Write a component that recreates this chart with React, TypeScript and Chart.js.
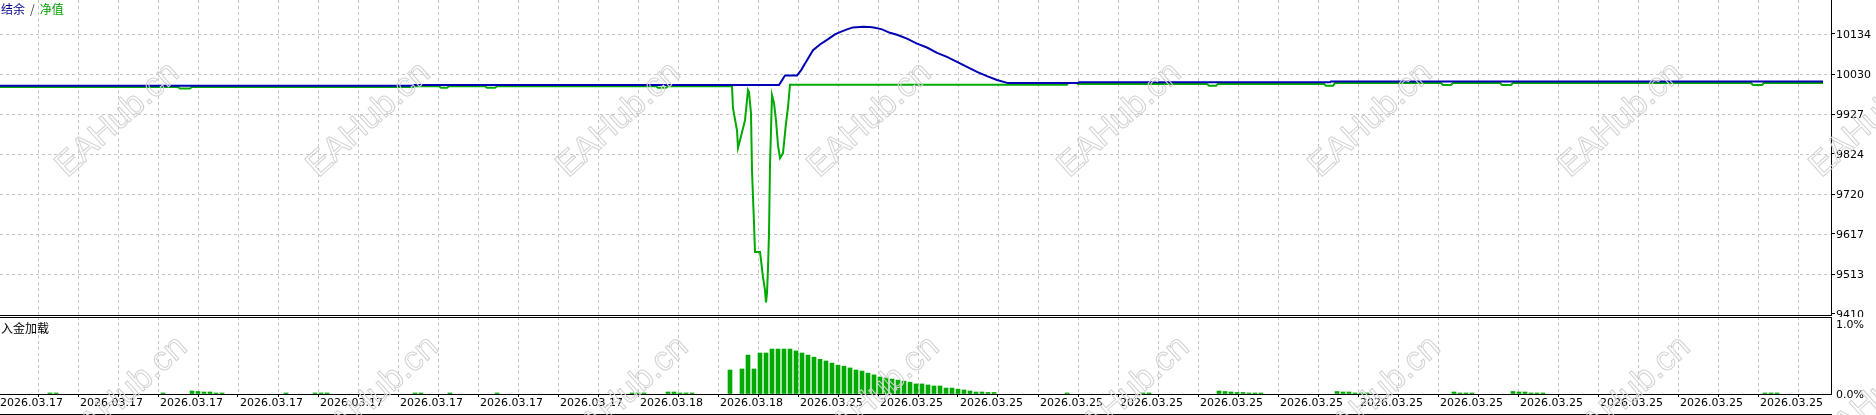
import React, { useEffect, useRef } from "react";
import { Chart, registerables } from "chart.js";

Chart.register(...registerables);

// ---------- data ----------
// x = time step index (shared by both panels)
const X_MIN = 0;
const X_MAX = 915.5;
const X_TICKS = [
  -1, 19, 39, 59, 79, 99, 119, 139, 159, 179, 199, 219, 239, 259, 279, 299, 319, 339, 359, 379, 399, 419, 439,
  459, 479, 499, 519, 539, 559, 579, 599, 619, 639, 659, 679, 699, 719, 739, 759, 779, 799, 819, 839, 859, 879, 899,
];
const X_TICK_LABELS = [
  "2026.03.17", "2026.03.17", "2026.03.17", "2026.03.17", "2026.03.17", "2026.03.17", "2026.03.17", "2026.03.17",
  "2026.03.18", "2026.03.18",
  "2026.03.25", "2026.03.25", "2026.03.25", "2026.03.25", "2026.03.25", "2026.03.25", "2026.03.25",
  "2026.03.25", "2026.03.25", "2026.03.25", "2026.03.25", "2026.03.25", "2026.03.25",
];

const Y_TICKS = [9410, 9513, 9617, 9720, 9824, 9927, 10030, 10134];
const Y_TICK_LABELS = ["9410", "9513", "9617", "9720", "9824", "9927", "10030", "10134"];
const Y_MIN = 9407.4;
const Y_MAX = 10221.9;

const BALANCE_T = [
  0, 206.5, 207, 389.5, 392.5, 398.5, 400.5, 403.5, 406.5, 410, 413.5, 417.5, 420, 423.5, 426.5, 431.5, 435, 437.5,
  441, 445, 448.5, 453.5, 458.5, 463.5, 468.5, 473.5, 478.5, 483.5, 488.5, 493.5, 498.5, 504, 539, 539.5, 665, 665.5,
  911.5,
];
const BALANCE_V = [
  10000, 10000, 10002, 10002, 10027, 10027, 10040, 10066, 10092, 10107, 10119, 10133, 10139, 10146, 10151, 10153,
  10152, 10150, 10146, 10137, 10132, 10122, 10109, 10099, 10085, 10075, 10062, 10049, 10036, 10025, 10015, 10007,
  10007, 10009, 10009, 10011, 10011,
];

const EQUITY_T = [
  0, 89, 90, 95, 96, 206.5, 207, 219.5, 220.5, 223.5, 224.5, 242.5, 243.5, 247.5, 248.5, 328, 329, 333, 334, 366,
  366.5, 368.5, 369, 370, 372.5, 374, 374.5, 375.5, 376, 376.5, 377, 377.5, 380, 380.5, 381.5, 382.5, 383, 383.5,
  384, 384.5, 385, 385.5, 386, 387, 388, 389, 390, 391.5, 393, 394, 395, 533.5, 534, 538.5, 539, 603.5, 604.5, 608,
  609, 662, 663, 666.5, 667.5, 720.5, 721.5, 725.5, 726.5, 750, 751, 755.5, 756.5, 875.5, 876.5, 881, 882, 911.5,
];
const EQUITY_V = [
  9997, 9997, 9993, 9993, 9997, 9997, 9999, 9999, 9995, 9995, 9999, 9999, 9995, 9995, 9999, 9999, 9995, 9995, 9999,
  9999, 9942, 9885, 9839, 9859, 9911, 9989, 9984, 9929, 9782, 9712, 9645, 9570, 9570, 9549, 9505, 9471, 9440, 9464,
  9528, 9619, 9795, 9885, 9976, 9955, 9911, 9846, 9813, 9826, 9903, 9945, 10003, 10003, 10007, 10007, 10005, 10005,
  10000, 10000, 10005, 10005, 10000, 10000, 10007, 10007, 10002, 10002, 10007, 10007, 10002, 10002, 10007, 10007,
  10002, 10002, 10007, 10007,
];

// deposit load, percent
const LOAD_T = [
  25, 28, 81.5, 96, 99, 102, 105, 108, 111, 143, 157.5, 160.5, 163.5, 207.5, 210.5, 225, 248.5, 316, 319, 322, 334,
  337, 340, 343, 346, 365, 371, 374, 377, 380, 383, 386, 389, 392, 395, 398, 401, 404, 407, 410, 413, 416, 419, 422,
  425, 428, 431, 434, 437, 440, 443, 446, 449, 452, 455, 458, 461, 464, 467, 470, 473, 476, 479, 482, 485, 488, 491,
  494, 497, 533.5, 571.5, 574.5, 609.5, 612.5, 615.5, 618.5, 621.5, 624.5, 627.5, 630.5, 668.5, 671.5, 674.5, 677.5,
  680.5, 683.5, 727, 730, 733, 736, 756.5, 759.5, 762.5, 765.5, 768.5, 771.5, 882.5, 885.5, 888.5,
];
const LOAD_V = [
  0.015, 0.015, 0.015, 0.043, 0.036, 0.029, 0.029, 0.015, 0.015, 0.015, 0.015, 0.015, 0.015, 0.015, 0.015, 0.015,
  0.015, 0.015, 0.015, 0.015, 0.029, 0.029, 0.015, 0.015, 0.015, 0.345, 0.36, 0.56, 0.36, 0.59, 0.59, 0.647, 0.647,
  0.647, 0.647, 0.62, 0.59, 0.56, 0.53, 0.5, 0.475, 0.445, 0.415, 0.4, 0.375, 0.345, 0.33, 0.3, 0.275, 0.245, 0.23,
  0.215, 0.2, 0.185, 0.17, 0.145, 0.145, 0.13, 0.115, 0.115, 0.085, 0.085, 0.07, 0.058, 0.043, 0.029, 0.029, 0.022,
  0.022, 0.015, 0.015, 0.015, 0.043, 0.036, 0.029, 0.022, 0.022, 0.015, 0.015, 0.015, 0.036, 0.029, 0.029, 0.015,
  0.015, 0.015, 0.029, 0.015, 0.015, 0.015, 0.036, 0.029, 0.029, 0.015, 0.015, 0.015, 0.015, 0.015, 0.015,
];
const LOAD_TICKS = [0, 1];
const LOAD_TICK_LABELS = ["0.0%", "1.0%"];
const LOAD_MAX = 1.108;

// ---------- styles ----------
const BLUE = "#0000b4";
const GREEN = "#00aa00";
const GRID = "#c4c4c4";
const AXIS_FONT = { family: '"DejaVu Sans", sans-serif', size: 11 };

const zip = (t: number[], v: number[]) => t.map((x, i) => ({ x, y: v[i] }));

const dashedGrid = {
  id: "dashedGrid",
  beforeDatasetsDraw(chart: any, _a: any, opts: any) {
    const { ctx, chartArea: a, scales } = chart;
    ctx.save();
    ctx.strokeStyle = GRID;
    ctx.lineWidth = 1;
    ctx.setLineDash([3, 3]);
    ctx.beginPath();
    for (const t of scales.x.ticks) {
      const px = Math.round(scales.x.getPixelForValue(t.value)) + 0.5;
      if (px < a.left + 1 || px > a.right - 1) continue;
      ctx.moveTo(px, a.top);
      ctx.lineTo(px, a.bottom);
    }
    if (opts && opts.horizontal) {
      for (const t of scales.y.ticks) {
        const py = Math.round(scales.y.getPixelForValue(t.value)) + 0.5;
        if (py < a.top + 1 || py > a.bottom - 2) continue;
        ctx.moveTo(a.left, py);
        ctx.lineTo(a.right, py);
      }
    }
    ctx.stroke();
    ctx.restore();
  },
};

const subFrame = {
  id: "subFrame",
  afterDraw(chart: any) {
    const { ctx, chartArea: a } = chart;
    ctx.save();
    ctx.fillStyle = "#000";
    ctx.fillRect(a.left, Math.round(a.top), a.right - a.left + 1, 1);
    ctx.fillRect(a.left, chart.height - 1, a.right - a.left + 1, 1);
    ctx.restore();
  },
};

const xTickSetup = (s: any) => {
  s.ticks = X_TICKS.map((v) => ({ value: v }));
};

export default function App() {
  const mainRef = useRef<HTMLCanvasElement>(null);
  const subRef = useRef<HTMLCanvasElement>(null);

  useEffect(() => {
    const main = new Chart(mainRef.current as HTMLCanvasElement, {
      type: "line",
      data: {
        datasets: [
          {
            label: "结余",
            data: zip(BALANCE_T, BALANCE_V),
            borderColor: BLUE,
            borderWidth: 2,
            pointRadius: 0,
            tension: 0,
            fill: false,
          },
          {
            label: "净值",
            data: zip(EQUITY_T, EQUITY_V),
            borderColor: GREEN,
            borderWidth: 2,
            pointRadius: 0,
            tension: 0,
            fill: false,
          },
        ],
      },
      options: {
        animation: false,
        responsive: false,
        devicePixelRatio: 1,
        events: [],
        layout: { padding: { left: 0, right: 0, top: 0, bottom: 2 } },
        plugins: {
          legend: { display: false },
          tooltip: { enabled: false },
          dashedGrid: { horizontal: true },
        } as any,
        scales: {
          x: {
            type: "linear",
            min: X_MIN,
            max: X_MAX,
            afterBuildTicks: xTickSetup,
            afterFit: (s: any) => {
              s.height = 0;
              s.paddingLeft = 0;
              s.paddingRight = 0;
            },
            ticks: { display: false, autoSkip: false },
            grid: { display: true, drawOnChartArea: false, drawTicks: false },
            border: { display: true, color: "#000", width: 1 },
          },
          y: {
            type: "linear",
            position: "right",
            min: Y_MIN,
            max: Y_MAX,
            afterBuildTicks: (s: any) => {
              s.ticks = Y_TICKS.map((v) => ({ value: v }));
            },
            afterFit: (s: any) => {
              s.width = 45;
              s.paddingTop = 0;
              s.paddingBottom = 0;
            },
            ticks: {
              autoSkip: false,
              font: AXIS_FONT,
              color: "#000",
              padding: 1,
              labelOffset: 1,
              callback: (_v: any, i: number) => Y_TICK_LABELS[i],
            },
            grid: { display: true, drawOnChartArea: false, drawTicks: true, tickLength: 4, color: "#000" },
            border: { display: true, color: "#000", width: 1 },
          },
        },
      } as any,
      plugins: [dashedGrid],
    });

    const sub = new Chart(subRef.current as HTMLCanvasElement, {
      type: "bar",
      data: {
        datasets: [
          {
            label: "入金加载",
            data: zip(LOAD_T, LOAD_V),
            backgroundColor: GREEN,
            borderWidth: 0,
            barThickness: 4,
          } as any,
        ],
      },
      options: {
        animation: false,
        responsive: false,
        devicePixelRatio: 1,
        events: [],
        layout: { padding: 0 },
        plugins: {
          legend: { display: false },
          tooltip: { enabled: false },
          dashedGrid: { horizontal: false },
        } as any,
        scales: {
          x: {
            type: "linear",
            min: X_MIN,
            max: X_MAX,
            offset: false,
            afterBuildTicks: xTickSetup,
            afterFit: (s: any) => {
              s.height = 21;
              s.paddingLeft = 0;
              s.paddingRight = 0;
            },
            ticks: {
              display: true,
              autoSkip: false,
              maxRotation: 0,
              minRotation: 0,
              align: "start",
              labelOffset: 2,
              padding: 0,
              font: AXIS_FONT,
              color: "#000",
              callback: (_v: any, i: number) => (i % 2 === 0 ? X_TICK_LABELS[i / 2] ?? "" : ""),
            },
            grid: { display: true, offset: false, drawOnChartArea: false, drawTicks: true, tickLength: 3, color: "#000" },
            border: { display: true, color: "#000", width: 1 },
          },
          y: {
            type: "linear",
            position: "right",
            min: 0,
            max: LOAD_MAX,
            afterBuildTicks: (s: any) => {
              s.ticks = LOAD_TICKS.map((v) => ({ value: v }));
            },
            afterFit: (s: any) => {
              s.width = 45;
              s.paddingTop = 0;
              s.paddingBottom = 0;
            },
            ticks: {
              autoSkip: false,
              font: AXIS_FONT,
              color: "#000",
              padding: 1,
              labelOffset: 1,
              callback: (_v: any, i: number) => LOAD_TICK_LABELS[i],
            },
            grid: { display: true, drawOnChartArea: false, drawTicks: true, tickLength: 4, color: "rgba(0,0,0,0)" },
            border: { display: true, color: "#000", width: 1 },
          },
        },
      } as any,
      plugins: [dashedGrid, subFrame],
    });

    return () => {
      main.destroy();
      sub.destroy();
    };
  }, []);

  const marks: React.ReactNode[] = [];
  for (let k = 0; k < 8; k++) {
    marks.push(
      <span key={"u" + k} style={{ ...wmStyle, left: 116 + 250.5 * k, top: 118 }}>
        EAHub.cn
      </span>
    );
    marks.push(
      <span key={"l" + k} style={{ ...wmStyle, left: 124 + 250.5 * k, top: 392 }}>
        EAHub.cn
      </span>
    );
  }

  return (
    <div
      style={{
        position: "absolute",
        left: 0,
        top: 0,
        width: 1876,
        height: 415,
        background: "#fff",
        overflow: "hidden",
      }}
    >
      <canvas ref={mainRef} width={1876} height={317} style={{ display: "block", width: 1876, height: 317 }} />
      <canvas ref={subRef} width={1876} height={98} style={{ display: "block", width: 1876, height: 98 }} />
      <div
        style={{
          position: "absolute",
          left: 1,
          top: 1,
          fontFamily: '"Noto Sans CJK SC", sans-serif',
          fontSize: 12,
          lineHeight: "15px",
          whiteSpace: "nowrap",
        }}
      >
        <span style={{ color: "#00008b" }}>结余</span>
        <span style={{ color: "#444", margin: "0 5px" }}>/</span>
        <span style={{ color: "#00a000" }}>净值</span>
      </div>
      <div
        style={{
          position: "absolute",
          left: 1,
          top: 320,
          fontFamily: '"Noto Sans CJK SC", sans-serif',
          fontSize: 12,
          lineHeight: "15px",
          color: "#000",
          whiteSpace: "nowrap",
        }}
      >
        入金加载
      </div>
      <div style={{ position: "absolute", inset: 0, pointerEvents: "none" }}>{marks}</div>
    </div>
  );
}

const wmStyle: React.CSSProperties = {
  position: "absolute",
  transform: "translate(-50%, -50%) rotate(-42deg)",
  fontFamily: '"Liberation Sans", Arial, sans-serif',
  fontSize: 34,
  color: "transparent",
  WebkitTextStroke: "1px #d2d2d2",
  whiteSpace: "nowrap",
  lineHeight: "34px",
};
